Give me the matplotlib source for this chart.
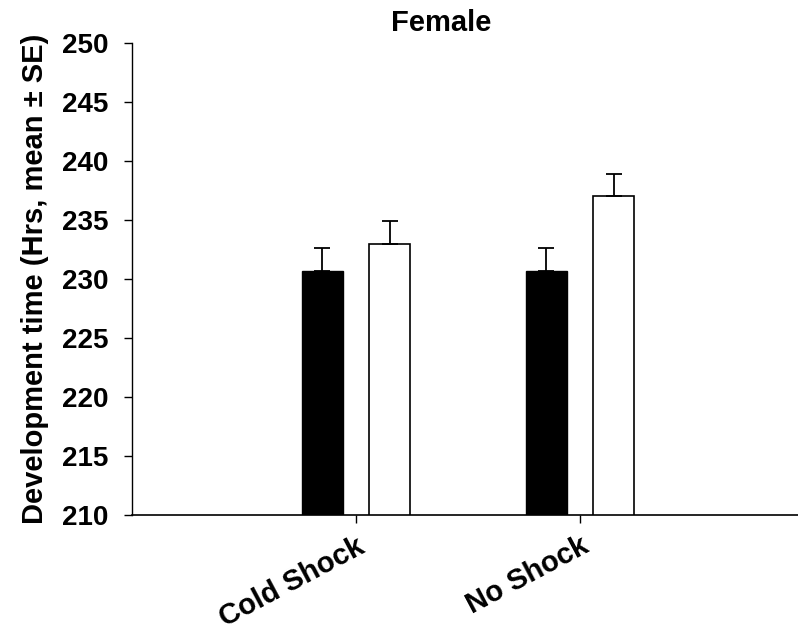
import numpy as np
import matplotlib.pyplot as plt

plt.rcParams['font.family'] = ['Liberation Sans', 'DejaVu Sans']
plt.rcParams['font.weight'] = 'bold'

# данные
groups = ['Cold Shock', 'No Shock']
black_means = [230.7, 230.7]
black_se = [1.9, 1.9]
white_means = [233.0, 237.0]
white_se = [1.9, 1.9]
y_ticks = [210, 215, 220, 225, 230, 235, 240, 245, 250]

fig = plt.figure(figsize=(7.98, 6.36), dpi=100)
ax = fig.add_axes([132 / 798, 1 - 515.3 / 636, 1 - 132 / 798, (515.3 - 42.7) / 636])

x = np.arange(len(groups))
w = 0.183
off = 0.15
err_kw = dict(ecolor='black', elinewidth=1.3, capsize=5.5, capthick=1.3)

ax.bar(x - off, black_means, w, color='black', edgecolor='black', linewidth=1)
ax.errorbar(x - off, black_means, yerr=[np.zeros(len(groups)), black_se], fmt='none', **err_kw)
ax.bar(x + off, white_means, w, color='white', edgecolor='black', linewidth=1.2)
ax.errorbar(x + off, white_means, yerr=[np.zeros(len(groups)), white_se], fmt='none', **err_kw)

ax.set_xlim(-1.0, 1.973)
ax.set_ylim(210, 250)
ax.set_yticks(y_ticks)
ax.set_xticks(x)
ax.set_xticklabels(groups, rotation=28, ha='right', va='top', rotation_mode='anchor',
                   fontsize=21, fontweight='bold')
ax.tick_params(axis='y', labelsize=20, direction='out', length=6, width=1, pad=11)
ax.tick_params(axis='x', direction='out', length=6, width=1, pad=6)
for lab in ax.get_yticklabels():
    lab.set_fontweight('bold')

ax.spines['top'].set_visible(False)
ax.spines['right'].set_visible(False)
ax.spines['left'].set_linewidth(1)
ax.spines['bottom'].set_linewidth(1.2)

ax.set_ylabel('Development time (Hrs, mean ± SE)', fontsize=21, fontweight='bold', labelpad=9)
fig.text(441 / 798, 1 - 23 / 636, 'Female', ha='center', va='center', fontsize=21, fontweight='bold')

fig.savefig('out.png', dpi=100)
